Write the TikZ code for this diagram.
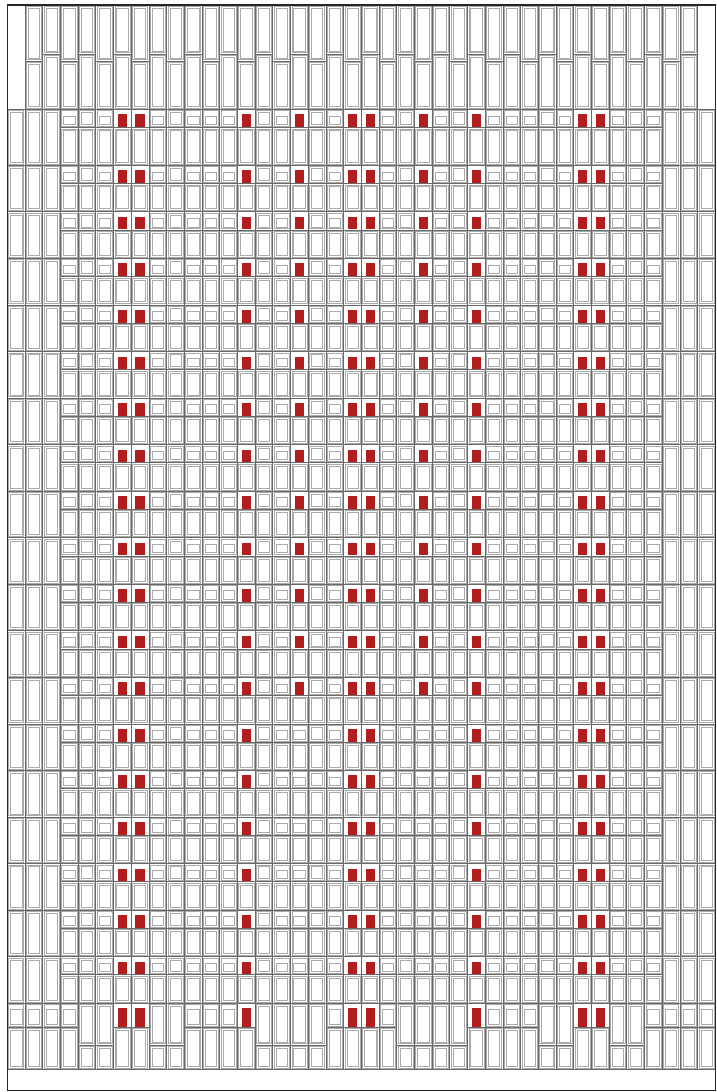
\documentclass[tikz,border=0pt]{standalone}
\usepackage{tikz}
\definecolor{brick}{RGB}{178,30,30}
\definecolor{gridgray}{RGB}{105,105,105}
\definecolor{panelgray}{RGB}{170,170,170}
\newcommand{\fpanel}[4]{%
  \draw[panelline] (#1+1.3,#2+1.3) rectangle (#3-1.3,#4-1.3);
  \draw[panelline] (#1+3.2,#2+3.2) rectangle (#3-3.2,#4-3.2);}
\newcommand{\tpanel}[4]{%
  \draw[panelline] (#1+1.3,#2+1.3) rectangle (#3-1.3,#4-1.3);
  \draw[panelline] (#1+3.2,#2+6.5) rectangle (#3-3.2,#4-3.2);}

\begin{document}
\begin{tikzpicture}[x=1pt, y=-1pt]
		\tikzset{gridline/.style={draw=gridgray, line width=0.8pt}}
		\tikzset{panelline/.style={draw=panelgray, line width=0.6pt}}
		\tikzset{redcell/.style={fill=brick, draw=none}}
		\tikzset{frameline/.style={draw=black!85, line width=1.1pt}}
		\useasboundingbox (0,0) rectangle (716,1092);
		\fill[white] (0,0) rectangle (716,1092);
		\foreach \k in {1,...,38} {
			\pgfmathsetmacro\xa{7.3+17.7*\k}
			\pgfmathsetmacro\xb{\xa+17.7}
			\pgfmathsetmacro\yb{mod(\k,2)==1 ? 61 : 54}
			\fpanel{\xa}{5}{\xb}{\yb}
			\fpanel{\xa}{\yb}{\xb}{109.3}
			\draw[gridline] (\xa,\yb) -- (\xb,\yb);
		}
		\foreach \i in {0,...,18} {
			\pgfmathsetmacro\ya{\i==0 ? 109.3 : 165.3+46.55*(\i-1)}
			\pgfmathsetmacro\yc{\i==0 ? 165.3 : \ya+46.55}
			\pgfmathsetmacro\ys{\ya+18.2}
			\foreach \k in {0,...,39} {
				\pgfmathsetmacro\xa{7.3+17.7*\k}
				\pgfmathsetmacro\xb{\xa+17.7}
				\pgfmathtruncatemacro\kind{{9,9,9,0,1,0,2,2,0,1,0,0,0,2,1,0,3,1,0,2,2,0,1,3,0,1,2,0,0,0,1,0,2,2,0,1,0,9,9,9}[\k]}
				\ifnum\kind=3
					\ifnum\i<13 \def\kind{2}\else \def\kind{0}\fi
				\fi
				\ifcase\kind
					\tpanel{\xa}{\ya}{\xb}{\ys}
					\fpanel{\xa}{\ys}{\xb}{\yc}
				\or
					\fpanel{\xa}{\ya}{\xb}{\ys}
					\fpanel{\xa}{\ys}{\xb}{\yc}
				\or
					\fill[redcell] (\xa+4.2,\ya+5) rectangle (\xb-4.2,\ys-0.6);
					\fpanel{\xa}{\ys}{\xb}{\yc}
				\else
					\fpanel{\xa}{\ya}{\xb}{\yc}
				\fi
			}
			\draw[gridline] (7.3,\ya) -- (715.3,\ya);
			\draw[gridline] (60.4,\ys) -- (662.2,\ys);
		}
		\foreach \k in {0,...,39} {
			\pgfmathsetmacro\xa{7.3+17.7*\k}
			\pgfmathsetmacro\xb{\xa+17.7}
			\pgfmathtruncatemacro\kind{{0,0,0,0,1,1,2,2,1,1,0,0,0,2,1,1,1,1,0,2,2,0,1,1,1,1,2,0,0,0,1,1,2,2,1,1,0,0,0,0}[\k]}
			\ifcase\kind
				\tpanel{\xa}{1003.2}{\xb}{1027.3}
				\fpanel{\xa}{1027.3}{\xb}{1069.3}
				\draw[gridline] (\xa,1027.3) -- (\xb,1027.3);
			\or
				\fpanel{\xa}{1003.2}{\xb}{1045}
				\fpanel{\xa}{1045}{\xb}{1069.3}
				\draw[gridline] (\xa,1045) -- (\xb,1045);
			\or
				\fill[redcell] (\xa+4.2,1008) rectangle (\xb-4.2,1027.3);
				\fpanel{\xa}{1027.3}{\xb}{1069.3}
				\draw[gridline] (\xa,1027.3) -- (\xb,1027.3);
			\fi
		}
		\foreach \j in {1,...,39} {
			\pgfmathsetmacro\xa{7.3+17.7*\j}
			\draw[gridline] (\xa,5) -- (\xa,1069.3);
		}
		\draw[gridline] (7.3,1003.2) -- (715.3,1003.2);
		\draw[gridline] (7.3,1069.3) -- (715.3,1069.3);
		\draw[frameline] (7.3,5) rectangle (715.3,1090.5);
	\end{tikzpicture}
\end{document}
